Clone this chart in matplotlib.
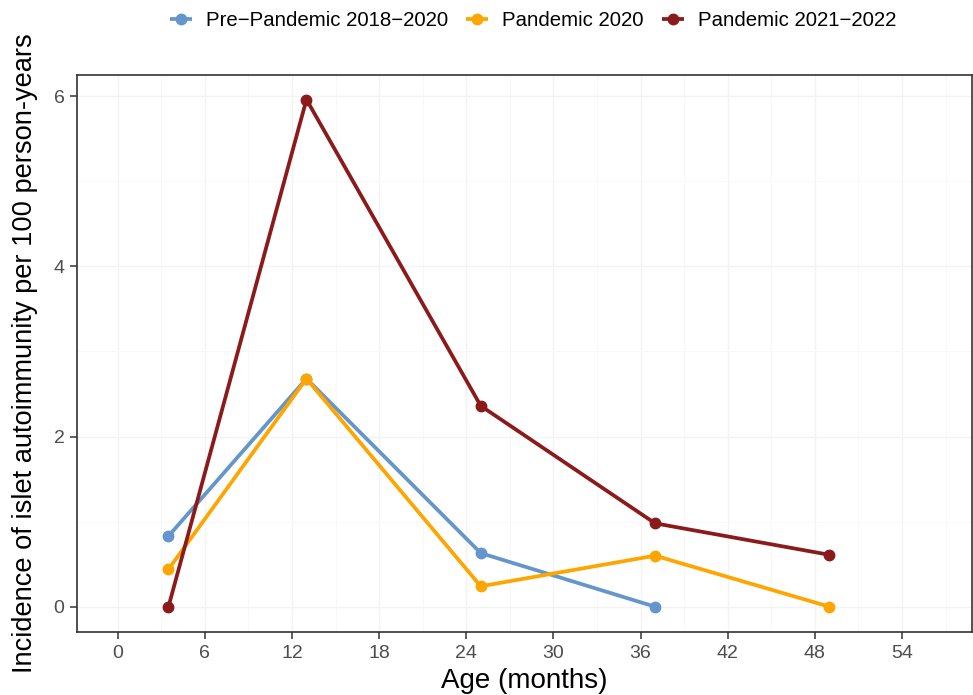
import matplotlib.pyplot as plt
from matplotlib.ticker import MultipleLocator

plt.rcParams['font.family'] = ['Liberation Sans', 'DejaVu Sans']

# age at midpoint of interval (months)
age = [3.5, 13, 25, 37, 49]

pre_pandemic = [0.83, 2.68, 0.63, 0.0]
pandemic_2020 = [0.44, 2.68, 0.24, 0.60, 0.0]
pandemic_2122 = [0.0, 5.96, 2.36, 0.98, 0.61]

series = [
    ('Pre\u2212Pandemic 2018\u22122020', pre_pandemic, '#6495CD'),
    ('Pandemic 2020', pandemic_2020, '#FFA500'),
    ('Pandemic 2021\u22122022', pandemic_2122, '#8B1A1A'),
]

fig = plt.figure(figsize=(9.73, 6.95), dpi=100)
ax = fig.add_axes([0.0791, 0.0906, 0.9196, 0.8014])

for label, vals, col in series:
    ax.plot(age[:len(vals)], vals, color=col, lw=2.7, marker='o', ms=7.5,
            solid_capstyle='butt', label=label, zorder=3)

ax.set_xlim(-2.8, 58.8)
ax.set_ylim(-0.2975, 6.2475)
ax.xaxis.set_major_locator(MultipleLocator(6))
ax.xaxis.set_minor_locator(MultipleLocator(3))
ax.yaxis.set_major_locator(MultipleLocator(2))
ax.yaxis.set_minor_locator(MultipleLocator(1))
ax.grid(True, which='major', color='#F3F3F3', lw=1.0, zorder=0)
ax.grid(True, which='minor', color='#F8F8F8', lw=0.7, zorder=0)
ax.set_axisbelow(True)

for s in ax.spines.values():
    s.set_color('#333333')
    s.set_linewidth(1.2)
ax.tick_params(which='major', length=5, width=1.1, color='#333333',
               labelsize=14, labelcolor='#4D4D4D', pad=4)
ax.tick_params(which='minor', length=0)

ax.set_xlabel('Age (months)', fontsize=20, color='black', labelpad=5)
ax.set_ylabel('Incidence of islet autoimmunity per 100 person-years',
              fontsize=19.6, color='black', labelpad=11)

fig.legend(loc='center', bbox_to_anchor=(0.548, 0.971), ncol=3, frameon=False,
           fontsize=14.7, handlelength=1.05, handletextpad=0.7, columnspacing=0.9)

fig.savefig('out.png', dpi=100)
